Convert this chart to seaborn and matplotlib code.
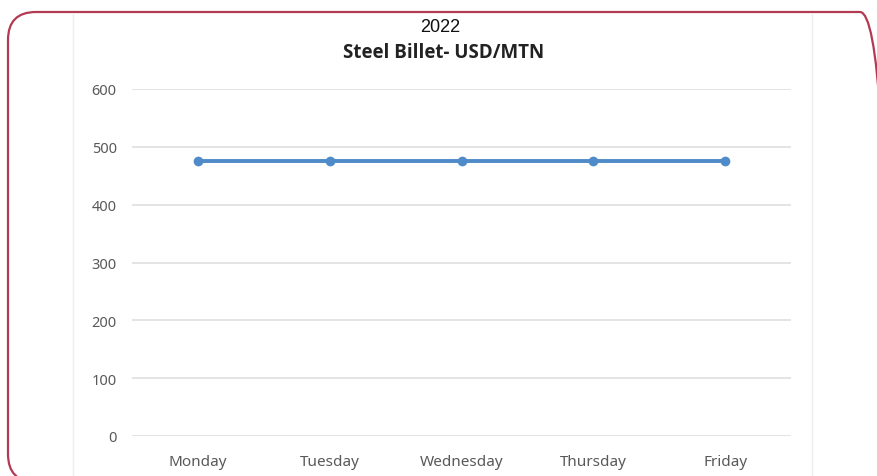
import pandas as pd
import matplotlib.pyplot as plt
import seaborn as sns
from matplotlib.patches import FancyBboxPatch

# 데이터
days = ["Monday", "Tuesday", "Wednesday", "Thursday", "Friday"]
prices = [475, 475, 475, 475, 475]
y_ticks = [0, 100, 200, 300, 400, 500, 600]

sns.set_style("white")
plt.rcParams['font.family'] = ['Noto Sans', 'DejaVu Sans']

df = pd.DataFrame({"day": days, "price": prices})

fig = plt.figure(figsize=(8.77, 4.77), dpi=100)

# 배경 (둥근 테두리, 엑셀 차트 가장자리) - 픽셀 좌표, 원점은 왼쪽 아래
bg = fig.add_axes([0, 0, 1, 1])
bg.set_xlim(0, 877)
bg.set_ylim(0, 477)
bg.axis("off")
bg.add_patch(FancyBboxPatch((8, -6), 880, 470, boxstyle="round,pad=0,rounding_size=28",
                            fill=False, edgecolor="#b23a52", linewidth=1.6))
bg.plot([73, 73], [0, 462], color="#ededed", lw=1)
bg.plot([812, 812], [0, 462], color="#ededed", lw=1)
bg.text(440, 477 - 27, "2022", ha="center", va="center", fontsize=13,
        family="Liberation Sans", color="#111111")
bg.text(444, 477 - 53, "Steel Billet- USD/MTN", ha="center", va="center", fontsize=13.5,
        fontweight="bold", family="Open Sans", color="#222222")

ax = fig.add_axes([132 / 877, 1 - 437 / 477, (791 - 132) / 877, (437 - 90) / 477])
ax.patch.set_alpha(0)
sns.lineplot(data=df, x="day", y="price", ax=ax, color="#4f8ac9", linewidth=2.8,
             marker="o", markersize=7, markeredgewidth=0, sort=False)

ax.set_xlim(-0.5, 4.5)
ax.set_ylim(0, 600)
ax.set_yticks(y_ticks)
ax.grid(axis="y", color="#dcdcdc", linewidth=1.1)
ax.set_axisbelow(True)
sns.despine(ax=ax, left=True, bottom=True)
ax.tick_params(axis="y", length=0, pad=11, labelsize=10.5, labelcolor="#595959")
ax.tick_params(axis="x", length=0, pad=13, labelsize=11, labelcolor="#595959")
ax.set_xlabel("")
ax.set_ylabel("")

fig.savefig("out.png", dpi=100)
